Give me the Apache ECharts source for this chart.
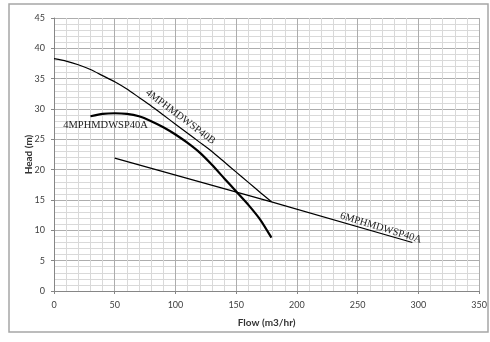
<!DOCTYPE html>
<html>
<head>
<meta charset="utf-8">
<script src="https://cdn.jsdelivr.net/npm/echarts@6/dist/echarts.min.js"></script>
<style>
  html, body { margin: 0; padding: 0; background: #fff; }
  #main { width: 490px; height: 342px; }
</style>
</head>
<body>
<div id="main"></div>
<script>
// pump curves: [flow m3/hr, head m]
var curve40B = [
  [0, 38.3], [10, 37.9], [20, 37.3], [30, 36.5], [40, 35.5], [50, 34.5],
  [60, 33.3], [70, 31.9], [80, 30.5], [90, 29.0], [100, 27.5], [110, 26.0],
  [120, 24.5], [130, 23.0], [140, 21.3], [150, 19.6], [160, 17.9],
  [170, 16.2], [179, 14.7]
];
var curve40A = [
  [30, 28.8], [40, 29.2], [50, 29.3], [60, 29.2], [70, 28.8], [80, 28.0],
  [90, 27.0], [100, 25.8], [110, 24.4], [120, 22.8], [130, 20.8],
  [140, 18.6], [150, 16.4], [160, 14.2], [170, 11.7], [179, 8.8]
];
var curve6M = [[50, 21.9], [179, 14.7], [295, 8.0]];

var seriesNames = ['4MPHMDWSP40B', '4MPHMDWSP40A', '6MPHMDWSP40A'];
// where each curve's name sits, [flow, head], and its angle
var labelAt = [[104, 28.7], [42.4, 27.3], [269, 10.4]];
var labelRotate = [-37, 0, -17];

var xTicks = { min: 0, max: 350, interval: 50 };
var yTicks = { min: 0, max: 45, interval: 5 };

var myChart = echarts.init(document.getElementById('main'));

function nameMark(i) {
  return {
    symbol: 'circle',
    symbolSize: 0,
    silent: true,
    data: [{ coord: labelAt[i] }],
    label: {
      show: true,
      position: 'inside',
      formatter: seriesNames[i],
      rotate: labelRotate[i],
      fontFamily: 'Liberation Serif',
      fontSize: 10.5,
      color: '#222'
    }
  };
}

var option = {
  animation: false,
  backgroundColor: '#fff',
  graphic: [{
    type: 'rect',
    shape: { x: 9, y: 4, width: 479, height: 328 },
    style: { fill: 'none', stroke: '#a6a6a6', lineWidth: 1.5 },
    silent: true
  }],
  grid: { left: 54, top: 18, right: 9, bottom: 51 },
  xAxis: {
    type: 'value',
    min: xTicks.min, max: xTicks.max, interval: xTicks.interval,
    name: 'Flow (m3/hr)',
    nameLocation: 'middle',
    nameGap: 27,
    nameTextStyle: { fontFamily: 'Lato', fontWeight: 'bold', fontSize: 10, color: '#333' },
    axisLine: { show: true, lineStyle: { color: '#868686' } },
    axisTick: { show: true, length: 3, lineStyle: { color: '#868686' } },
    axisLabel: { fontFamily: 'Lato', fontSize: 9, color: '#404040', margin: 10 },
    splitLine: { show: true, lineStyle: { color: '#adadad' } },
    minorTick: { show: false, splitNumber: 5 },
    minorSplitLine: { show: true, lineStyle: { color: '#d9d9d9' } }
  },
  yAxis: {
    type: 'value',
    min: yTicks.min, max: yTicks.max, interval: yTicks.interval,
    name: 'Head (m)',
    nameLocation: 'middle',
    nameMoveOverlap: false,
    nameGap: 20,
    nameTextStyle: { fontFamily: 'Lato', fontWeight: 'bold', fontSize: 10, color: '#333' },
    axisLine: { show: true, lineStyle: { color: '#868686' } },
    axisTick: { show: true, length: 3, lineStyle: { color: '#868686' } },
    axisLabel: { fontFamily: 'Lato', fontSize: 9, color: '#404040', margin: 9 },
    splitLine: { show: true, lineStyle: { color: '#adadad' } },
    minorTick: { show: false, splitNumber: 5 },
    minorSplitLine: { show: true, lineStyle: { color: '#d9d9d9' } }
  },
  series: [
    {
      name: seriesNames[0],
      type: 'line',
      data: curve40B,
      smooth: 0.2,
      showSymbol: false,
      lineStyle: { color: '#000', width: 1.2 },
      markPoint: nameMark(0)
    },
    {
      name: seriesNames[1],
      type: 'line',
      data: curve40A,
      smooth: 0.2,
      showSymbol: false,
      lineStyle: { color: '#000', width: 2.2 },
      markPoint: nameMark(1)
    },
    {
      name: seriesNames[2],
      type: 'line',
      data: curve6M,
      showSymbol: false,
      lineStyle: { color: '#000', width: 1.2 },
      markPoint: nameMark(2)
    }
  ]
};

myChart.setOption(option);
</script>
</body>
</html>
